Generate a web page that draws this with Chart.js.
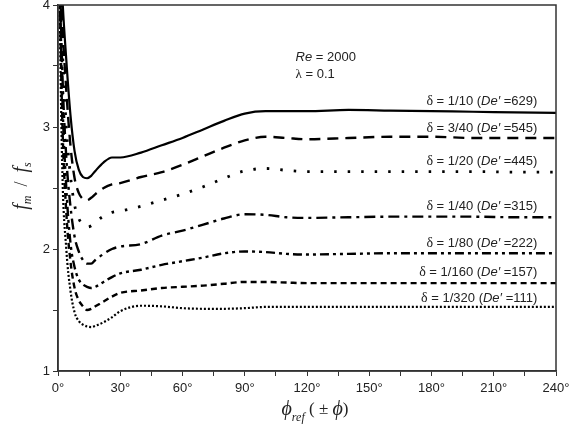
<!DOCTYPE html>
<html>
<head>
<meta charset="utf-8">
<script src="https://cdn.jsdelivr.net/npm/chart.js@4/dist/chart.umd.min.js"></script>
<style>
    html, body { margin: 0; padding: 0; background: #fff; }
</style>
</head>
<body>
<canvas id="chart" width="569" height="438"></canvas>
<script>
// 横轴角度 (°)
const angles = [0, 2, 4, 6, 8, 10, 12, 14, 16, 18, 22, 26, 30, 40, 50, 60, 70, 80, 90, 100, 110, 120, 140, 160, 180, 200, 220, 240];

// f_m / f_s, 每条曲线一组
const delta1_10 = [5.0, 4.1, 3.55, 3.1, 2.8, 2.65, 2.59, 2.58, 2.6, 2.64, 2.71, 2.75, 2.75, 2.79, 2.85, 2.91, 2.98, 3.05, 3.11, 3.13, 3.13, 3.13, 3.14, 3.135, 3.13, 3.125, 3.12, 3.115];
const delta3_40 = [5.0, 3.9, 3.3, 2.85, 2.58, 2.46, 2.41, 2.4, 2.42, 2.45, 2.5, 2.53, 2.54, 2.59, 2.63, 2.69, 2.76, 2.83, 2.89, 2.92, 2.91, 2.9, 2.91, 2.92, 2.92, 2.91, 2.91, 2.91];
const delta1_20 = [5.0, 3.7, 3.0, 2.6, 2.36, 2.25, 2.2, 2.18, 2.19, 2.22, 2.27, 2.3, 2.31, 2.35, 2.4, 2.45, 2.51, 2.58, 2.64, 2.66, 2.645, 2.635, 2.635, 2.635, 2.635, 2.635, 2.63, 2.63];
const delta1_40 = [5.0, 3.5, 2.75, 2.35, 2.1, 1.98, 1.91, 1.88, 1.88, 1.91, 1.96, 2.0, 2.02, 2.04, 2.11, 2.15, 2.2, 2.25, 2.285, 2.28, 2.26, 2.255, 2.26, 2.265, 2.265, 2.265, 2.26, 2.26];
const delta1_80 = [5.0, 3.3, 2.5, 2.05, 1.85, 1.75, 1.71, 1.69, 1.68, 1.69, 1.73, 1.77, 1.8, 1.83, 1.87, 1.9, 1.93, 1.965, 1.98, 1.975, 1.96, 1.955, 1.96, 1.965, 1.965, 1.965, 1.965, 1.965];
const delta1_160 = [5.0, 3.1, 2.3, 1.9, 1.68, 1.58, 1.53, 1.5, 1.51, 1.53, 1.57, 1.61, 1.64, 1.66, 1.68, 1.69, 1.7, 1.715, 1.73, 1.73, 1.725, 1.72, 1.72, 1.72, 1.72, 1.72, 1.72, 1.72];
const delta1_320 = [5.0, 2.7, 2.0, 1.66, 1.48, 1.41, 1.38, 1.365, 1.36, 1.37, 1.4, 1.44, 1.49, 1.535, 1.53, 1.515, 1.51, 1.51, 1.515, 1.525, 1.525, 1.525, 1.525, 1.525, 1.525, 1.525, 1.525, 1.525];

// 曲线标注
const deltaTexts = ['1/10', '3/40', '1/20', '1/40', '1/80', '1/160', '1/320'];
const deanNumbers = ['629', '545', '445', '315', '222', '157', '111'];
const labelLevels = [3.207, 2.989, 2.716, 2.347, 2.048, 1.806, 1.596];

// 坐标轴刻度
const xTickLabels = ['0°', '30°', '60°', '90°', '120°', '150°', '180°', '210°', '240°'];
const yTickLabels = ['1', '2', '3', '4'];

const SANS = '"Liberation Sans", Arial, sans-serif';
const SERIF = '"Liberation Serif", "Times New Roman", serif';

const seriesValues = [delta1_10, delta3_40, delta1_20, delta1_40, delta1_80, delta1_160, delta1_320];
const dashStyles = [
    [],
    [11, 7],
    [2.5, 11],
    [11, 5, 3, 5],
    [9, 4, 3, 4, 3, 4],
    [6, 4],
    [2, 2]
];
const lineWidths = [2.2, 2.4, 2.8, 2.4, 2.4, 2.4, 2.2];

// 画混合字体的文字
function drawRich(ctx, parts, x, y, align) {
    let total = 0;
    parts.forEach(p => {
        ctx.font = p.f;
        total += ctx.measureText(p.t).width;
    });
    let cx = align === 'right' ? x - total : (align === 'center' ? x - total / 2 : x);
    parts.forEach(p => {
        ctx.font = p.f;
        ctx.fillText(p.t, cx, y + (p.dy || 0));
        cx += ctx.measureText(p.t).width;
    });
}

const decorPlugin = {
    id: 'decor',
    afterDraw(chart) {
        const ctx = chart.ctx;
        const area = chart.chartArea;
        const xs = chart.scales.x;
        const ys = chart.scales.y;

        ctx.save();
        // 边框
        ctx.strokeStyle = '#333';
        ctx.lineWidth = 1.5;
        ctx.strokeRect(area.left, area.top, area.right - area.left, area.bottom - area.top);

        ctx.fillStyle = '#222';
        ctx.textBaseline = 'middle';

        // 曲线标注
        const lx = xs.getPixelForValue(231);
        deltaTexts.forEach((d, i) => {
            const ly = ys.getPixelForValue(labelLevels[i]);
            drawRich(ctx, [
                { t: 'δ', f: '14px ' + SERIF },
                { t: ' = ' + d + ' (', f: '13px ' + SANS },
                { t: 'De′', f: 'italic 13px ' + SANS },
                { t: ' =' + deanNumbers[i] + ')', f: '13px ' + SANS }
            ], lx, ly, 'right');
        });

        // 参数
        const px = xs.getPixelForValue(114.5);
        drawRich(ctx, [
            { t: 'Re', f: 'italic 13px ' + SANS },
            { t: ' = 2000', f: '13px ' + SANS }
        ], px, ys.getPixelForValue(3.57), 'left');
        drawRich(ctx, [
            { t: 'λ', f: '13px ' + SERIF },
            { t: ' = 0.1', f: '13px ' + SANS }
        ], px, ys.getPixelForValue(3.43), 'left');

        // 横轴标题
        const xc = (area.left + area.right) / 2;
        drawRich(ctx, [
            { t: 'ϕ', f: 'italic 20px ' + SERIF },
            { t: 'ref', f: 'italic 12px ' + SERIF, dy: 8 },
            { t: ' ( ± ', f: '17px ' + SERIF },
            { t: 'ϕ', f: 'italic 20px ' + SERIF },
            { t: ')', f: '17px ' + SERIF }
        ], xc + 8, 410, 'center');

        // 纵轴标题
        ctx.translate(22, (area.top + area.bottom) / 2 - 2);
        ctx.rotate(-Math.PI / 2);
        drawRich(ctx, [
            { t: 'f', f: 'italic 20px ' + SERIF },
            { t: 'm', f: 'italic 12px ' + SERIF, dy: 6 },
            { t: '  /  ', f: '18px ' + SERIF },
            { t: 'f', f: 'italic 20px ' + SERIF },
            { t: 's', f: 'italic 12px ' + SERIF, dy: 6 }
        ], 0, 0, 'center');
        ctx.restore();
    }
};

const ctx = document.getElementById('chart').getContext('2d');
new Chart(ctx, {
    type: 'line',
    data: {
        datasets: seriesValues.map((vals, i) => ({
            label: 'δ = ' + deltaTexts[i],
            data: angles.map((a, j) => ({ x: a, y: vals[j] })),
            borderColor: '#000',
            borderWidth: lineWidths[i],
            borderDash: dashStyles[i],
            pointRadius: 0,
            fill: false,
            cubicInterpolationMode: 'monotone'
        }))
    },
    options: {
        responsive: false,
        animation: false,
        layout: { padding: { top: 5, right: 13, left: 0, bottom: 0 } },
        plugins: {
            legend: { display: false },
            tooltip: { enabled: false }
        },
        scales: {
            x: {
                type: 'linear',
                min: 0,
                max: 240,
                border: { display: true, color: '#333', width: 1.5 },
                grid: { drawOnChartArea: false, drawTicks: true, tickLength: 5, color: '#333' },
                ticks: {
                    stepSize: 15,
                    autoSkip: false,
                    maxRotation: 0,
                    padding: 5,
                    color: '#222',
                    font: { family: SANS, size: 13 },
                    callback: v => (v % 30 === 0 ? xTickLabels[v / 30] : '')
                },
                afterFit(scale) {
                    scale.height = 67;
                    scale.paddingLeft = 0;
                    scale.paddingRight = 0;
                }
            },
            y: {
                type: 'linear',
                min: 1,
                max: 4,
                border: { display: true, color: '#333', width: 1.5 },
                grid: { drawOnChartArea: false, drawTicks: true, tickLength: 5, color: '#333' },
                ticks: {
                    stepSize: 0.5,
                    padding: 3,
                    color: '#222',
                    font: { family: SANS, size: 13 },
                    callback: v => (Number.isInteger(v) ? yTickLabels[v - 1] : '')
                },
                afterFit(scale) {
                    scale.width = 58;
                    scale.paddingTop = 0;
                    scale.paddingBottom = 0;
                }
            }
        }
    },
    plugins: [decorPlugin]
});
</script>
</body>
</html>
